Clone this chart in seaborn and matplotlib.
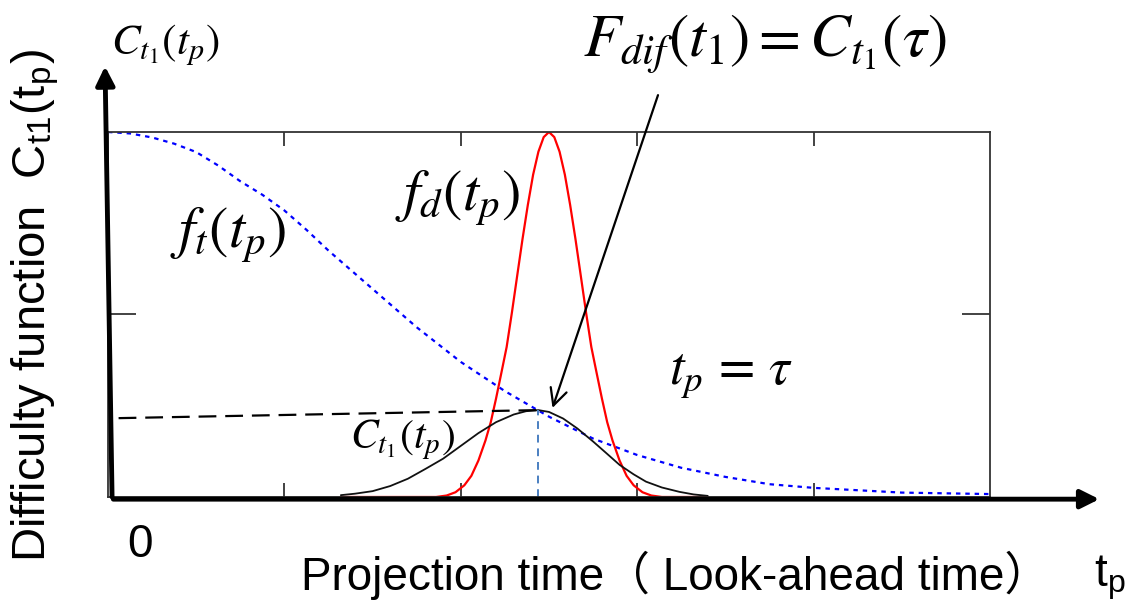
# Difficulty function sketch: f_t, f_d and C_t1 over projection time

import numpy as np
import pandas as pd
import matplotlib
matplotlib.use("Agg")
import matplotlib.pyplot as plt
import seaborn as sns

# -----------------------------
# Data
# -----------------------------
ft_x = [0.0, 0.125, 0.25, 0.375, 0.5, 0.625, 0.75, 0.875, 1.0, 1.125, 1.25, 1.5,
        1.75, 2.0, 2.25, 2.5, 2.75, 3.0, 3.25, 3.5, 3.75, 4.0, 4.5, 5.0]
ft_y = [1.0, 0.996, 0.985, 0.968, 0.945, 0.908, 0.865, 0.828, 0.785, 0.732, 0.675, 0.57,
        0.465, 0.37, 0.29, 0.22, 0.16, 0.115, 0.08, 0.055, 0.035, 0.025, 0.012, 0.008]

fd_x = [1.32, 1.86, 1.92, 1.97, 2.02, 2.06, 2.10, 2.14, 2.17, 2.20, 2.23, 2.26, 2.29,
        2.32, 2.35, 2.38, 2.41, 2.44, 2.47, 2.50, 2.53, 2.56, 2.59, 2.62, 2.65, 2.68,
        2.71, 2.74, 2.77, 2.80, 2.83, 2.86, 2.90, 2.94, 2.98, 3.03, 3.08, 3.14, 3.40]
fd_y = [0.0, 0.0, 0.004, 0.013, 0.032, 0.058, 0.10, 0.155, 0.205, 0.27, 0.34, 0.411,
        0.506, 0.607, 0.707, 0.80, 0.883, 0.946, 0.986, 1.0, 0.986, 0.946, 0.883, 0.80,
        0.707, 0.607, 0.506, 0.411, 0.34, 0.27, 0.205, 0.155, 0.10, 0.058, 0.032, 0.013,
        0.004, 0.0, 0.0]

c_x = [1.32, 1.40, 1.50, 1.60, 1.70, 1.80, 1.90, 2.00, 2.10, 2.20, 2.30, 2.37, 2.44,
       2.50, 2.58, 2.66, 2.75, 2.83, 2.90, 2.98, 3.05, 3.14, 3.24, 3.32, 3.40]
c_y = [0.005, 0.009, 0.016, 0.030, 0.050, 0.077, 0.105, 0.140, 0.175, 0.205, 0.226,
       0.235, 0.238, 0.233, 0.215, 0.188, 0.152, 0.118, 0.088, 0.062, 0.042, 0.026,
       0.014, 0.007, 0.003]

tau = 2.44
c_tau = 0.238
ref_line_x = [0.06, tau]
ref_line_y = [0.216, c_tau]

curves = pd.concat([
    pd.DataFrame({"t": ft_x, "v": ft_y, "curve": "ft"}),
    pd.DataFrame({"t": fd_x, "v": fd_y, "curve": "fd"}),
    pd.DataFrame({"t": c_x, "v": c_y, "curve": "c"}),
])

# -----------------------------
# Figure
# -----------------------------
sns.set_style("white")
plt.rcParams["font.family"] = ["Liberation Sans", "Noto Sans CJK JP", "DejaVu Sans"]
plt.rcParams["mathtext.fontset"] = "stix"
plt.rcParams["text.color"] = "black"

fig = plt.figure(figsize=(11.31, 6.08), dpi=100)
ax = fig.add_axes([0.0955, 0.1826, 0.7798, 0.6003])

sns.lineplot(data=curves[curves.curve == "ft"], x="t", y="v", ax=ax,
             color="#0000ff", lw=1.6, linestyle=(0, (2, 2.2)),
             sort=False, estimator=None)
sns.lineplot(data=curves[curves.curve == "fd"], x="t", y="v", ax=ax,
             color="#ff0000", lw=1.6, sort=False, estimator=None)
sns.lineplot(data=curves[curves.curve == "c"], x="t", y="v", ax=ax,
             color="#111111", lw=1.3, sort=False, estimator=None)

# reference lines at tau
ax.plot(ref_line_x, ref_line_y, color="black", lw=1.6, linestyle=(0, (8, 4)))
ax.plot([tau, tau], [0, c_tau], color="#4a7fc1", lw=1.4, linestyle=(0, (4, 3)))

ax.set_xlim(0, 5)
ax.set_ylim(0, 1)
ax.set_xticks([1, 2, 3, 4])
ax.set_yticks([0.5])
ax.set_xticklabels([])
ax.set_yticklabels([])
ax.set_xlabel("")
ax.set_ylabel("")
ax.tick_params(direction="in", length=10, width=1.2, color="#222222",
               top=True, bottom=True, left=True, right=True)
ax.tick_params(axis="y", length=20)
for s in ax.spines.values():
    s.set_color("#333333")
    s.set_linewidth(1.3)

# thick coordinate axes with arrow heads
ax.annotate("", xy=(-0.017, 1.18), xytext=(0.023, 0.0),
            arrowprops=dict(arrowstyle="-|>", lw=3.5, color="black",
                            mutation_scale=28, shrinkA=0, shrinkB=0),
            annotation_clip=False)
ax.annotate("", xy=(5.62, -0.006), xytext=(0.03, -0.006),
            arrowprops=dict(arrowstyle="-|>", lw=3.5, color="black",
                            mutation_scale=28, shrinkA=0, shrinkB=0),
            annotation_clip=False)

# pointer to C(tau)
ax.annotate("", xy=(2.52, 0.244), xytext=(3.118, 1.101),
            arrowprops=dict(arrowstyle="->", lw=1.6, color="black",
                            mutation_scale=30, shrinkA=0, shrinkB=0),
            annotation_clip=False)

# curve labels
ax.text(0.68, 0.718, r"$f_t(t_p)$", fontsize=42, ha="center", va="center")
ax.text(1.98, 0.82, r"$f_d(t_p)$", fontsize=42, ha="center", va="center")
ax.text(3.53, 0.334, r"$t_p\, = \,\tau$", fontsize=38, ha="center", va="center")
ax.text(1.67, 0.156, r"$C_{t_1}(t_p)$", fontsize=30, ha="center", va="center")

# figure-level text
fig.text(0.146, 0.926, r"$C_{t_1}(t_p)$", fontsize=31, ha="center", va="center")
fig.text(0.676, 0.926, r"$F_{dif}(t_1) = C_{t_1}(\tau)$", fontsize=44,
         ha="center", va="center")
fig.text(0.031, 0.498, r"Difficulty function  C$_{\mathregular{t1}}$(t$_{\mathregular{p}}$)",
         fontsize=34, rotation=90, ha="center", va="center")
fig.text(0.124, 0.104, "0", fontsize=33, ha="center", va="center")
fig.text(0.597, 0.054, "Projection time（ Look-ahead time）", fontsize=33,
         ha="center", va="center")
fig.text(0.981, 0.051, r"t$_{\mathregular{p}}$", fontsize=33, ha="center", va="center")

plt.savefig("out.png", dpi=100)
plt.close()
